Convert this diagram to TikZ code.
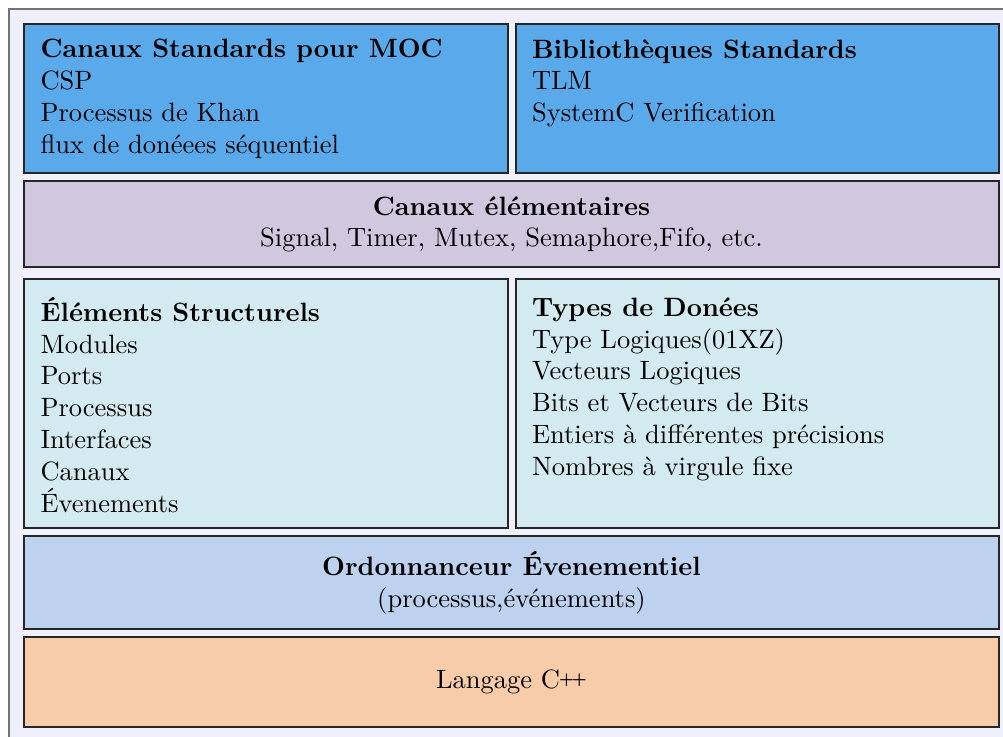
\documentclass[tikz,border=0pt]{standalone}
\usepackage{fontspec}
\usetikzlibrary{fit}
\definecolor{panelbg}{RGB}{240,240,252}
\definecolor{mocblue}{RGB}{90,170,235}
\definecolor{chanlav}{RGB}{208,200,222}
\definecolor{structcyan}{RGB}{210,234,240}
\definecolor{schedblue}{RGB}{189,210,238}
\definecolor{langorange}{RGB}{248,204,168}
% C++ with small raised plus signs
\newcommand{\CPP}{C\nolinebreak\hspace{-.05em}\raisebox{.4ex}{\tiny\bfseries +}\nolinebreak\hspace{-.10em}\raisebox{.4ex}{\tiny\bfseries +}}
\begin{document}
\begin{tikzpicture}[x=0.3774pt,y=-0.3774pt,
  layer/.style={draw=black!85, line width=0.45pt, inner sep=0pt, fill=#1},
  % multi-line nodes: the base anchor sits on the baseline of the last line
  leftText/.style={anchor=base west, align=left, inner sep=0pt},
  midText/.style={anchor=base, align=center, inner sep=0pt}]
\useasboundingbox (0,0) rectangle (1003,736);
\clip (0,0) rectangle (1003,736);
% outer panel
\draw[draw=black!55, line width=0.5pt, fill=panelbg] (9,9) rectangle (1030,760);
% layers
\node[layer=mocblue, fit={(24,24) (508,173)}] (moc) {};
\node[layer=mocblue, fit={(516,24) (999,173)}] (lib) {};
\node[layer=chanlav, fit={(24,181) (999,267)}] (chan) {};
\node[layer=structcyan, fit={(24,279) (508,528)}] (struct) {};
\node[layer=structcyan, fit={(516,279) (999,528)}] (types) {};
\node[layer=schedblue, fit={(24,536) (999,629)}] (sched) {};
\node[layer=langorange, fit={(24,637) (999,727)}] (lang) {};
% texts
\node[leftText] (mocT) at (40,153.3) {\textbf{Canaux Standards pour MOC}\\CSP\\Processus de Khan\\flux de donéees séquentiel};
\node[leftText] (libT) at (531.5,121.6) {\textbf{Bibliothèques Standards}\\TLM\\SystemC Verification};
\node[midText] (chanT) at (511.5,246.8) {\textbf{Canaux élémentaires}\\Signal, Timer, Mutex, Semaphore,Fifo, etc.};
\node[leftText] (structT) at (40,512) {\textbf{Éléments Structurels}\\Modules\\Ports\\Processus\\Interfaces\\Canaux\\Évenements};
\node[leftText] (typesT) at (531.5,475.3) {\textbf{Types de Donées}\\Type Logiques(01XZ)\\Vecteurs Logiques\\Bits et Vecteurs de Bits\\Entiers à différentes précisions\\Nombres à virgule fixe};
\node[midText] (schedT) at (511.5,607) {\textbf{Ordonnanceur Évenementiel}\\(processus,événements)};
\node[midText] (langT) at (511.5,688.5) {Langage \CPP};
\end{tikzpicture}
\end{document}
